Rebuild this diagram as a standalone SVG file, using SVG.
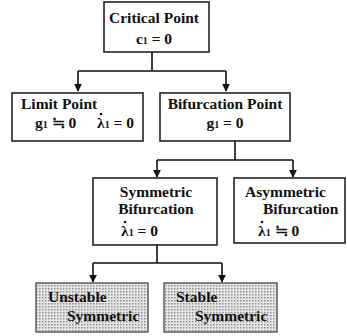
<svg xmlns="http://www.w3.org/2000/svg" width="347" height="336" viewBox="0 0 347 336">
<defs>
<pattern id="dots" width="3" height="3" patternUnits="userSpaceOnUse">
<rect width="3" height="3" fill="#e6e6e6"/>
<rect x="0" y="0" width="1.5" height="1.5" fill="#8f8f8f"/>
</pattern>
<marker id="arr" viewBox="0 0 10 10" refX="9" refY="5" markerWidth="5" markerHeight="5" orient="auto">
<path d="M0,0 L10,5 L0,10 z" fill="#111"/>
</marker>
</defs>
<style>
.box{fill:#fff;stroke:#222;stroke-width:1.6}
.shade{fill:url(#dots);stroke:#555;stroke-width:1.4}
.t{font-family:"Liberation Serif","Times New Roman",serif;font-weight:bold;font-size:15.5px;fill:#111}
.c{text-anchor:middle}
.sub{font-size:10px}
.dot{fill:#111}
.conn{fill:none;stroke:#111;stroke-width:1.6}
</style>
<rect width="347" height="336" fill="#fff"/>
<g id="connectors">
<path class="conn" d="M152,52 V71 H78 M152,71 H226"/>
<path class="conn" d="M78,71 V91" marker-end="url(#arr)"/>
<path class="conn" d="M226,71 V91" marker-end="url(#arr)"/>
<path class="conn" d="M235,141 V160 H157 M235,160 H293"/>
<path class="conn" d="M157,160 V177" marker-end="url(#arr)"/>
<path class="conn" d="M293,160 V177" marker-end="url(#arr)"/>
<path class="conn" d="M157,245 V263 H93 M157,263 H222"/>
<path class="conn" d="M93,263 V282" marker-end="url(#arr)"/>
<path class="conn" d="M222,263 V282" marker-end="url(#arr)"/>
</g>
<g id="critical">
<rect class="box" x="104" y="2" width="105" height="50"/>
<text class="t c" x="154" y="23">Critical Point</text>
<text class="t c" x="154" y="44">c<tspan class="sub">1</tspan> = 0</text>
</g>
<g id="limit">
<rect class="box" x="12" y="93" width="131" height="48"/>
<text class="t" x="21" y="109">Limit Point</text>
<text class="t" x="35" y="128">g<tspan class="sub">1</tspan> ≒ 0</text>
<text class="t" x="97" y="128">λ<tspan class="sub">1</tspan> = 0</text>
<circle class="dot" cx="101" cy="114" r="1.3"/>
</g>
<g id="bifurcation">
<rect class="box" x="160" y="93" width="130" height="48"/>
<text class="t c" x="225" y="109">Bifurcation Point</text>
<text class="t c" x="225" y="128">g<tspan class="sub">1</tspan> = 0</text>
</g>
<g id="symmetric">
<rect class="box" x="93" y="178" width="124" height="67"/>
<text class="t c" x="156" y="197">Symmetric</text>
<text class="t c" x="156" y="214">Bifurcation</text>
<text class="t" x="121" y="236">λ<tspan class="sub">1</tspan> = 0</text>
<circle class="dot" cx="125" cy="222" r="1.3"/>
</g>
<g id="asymmetric">
<rect class="box" x="234" y="178" width="111" height="65" stroke="#333" stroke-width="1.3"/>
<text class="t" x="245" y="197">Asymmetric</text>
<text class="t" x="263" y="214">Bifurcation</text>
<text class="t" x="258" y="236">λ<tspan class="sub">1</tspan> ≒ 0</text>
<circle class="dot" cx="262" cy="222" r="1.3"/>
</g>
<g id="unstable">
<rect class="shade" x="36" y="283" width="112" height="49"/>
<text class="t" x="48" y="302">Unstable</text>
<text class="t" x="67" y="321">Symmetric</text>
</g>
<g id="stable">
<rect class="shade" x="164" y="283" width="113" height="49"/>
<text class="t" x="176" y="302">Stable</text>
<text class="t" x="195" y="321">Symmetric</text>
</g>
</svg>
